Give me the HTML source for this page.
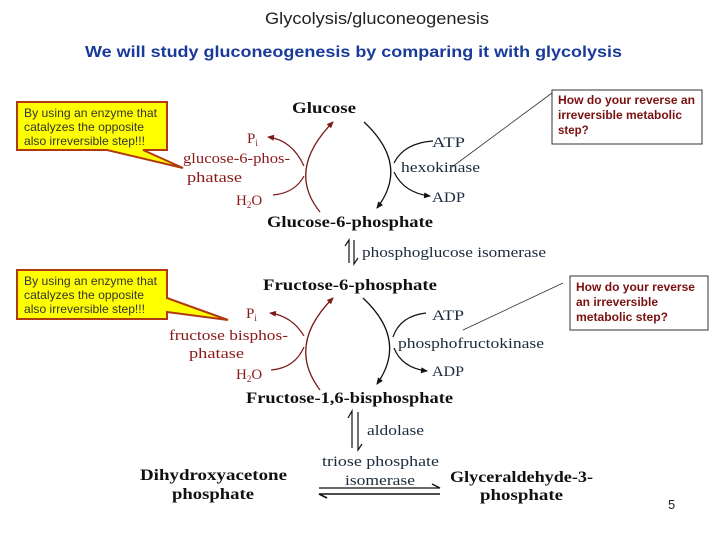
<!DOCTYPE html>
<html><head><meta charset="utf-8"><style>
html,body{margin:0;padding:0;background:#fff}
svg{display:block}
.m{font-family:"Liberation Serif",serif;font-weight:bold;font-size:16px;fill:#111}
.e{font-family:"Liberation Serif",serif;font-size:15px;fill:#1c2c3c}
.r{font-family:"Liberation Serif",serif;font-size:15px;fill:#8a1a1a}
.y{font-family:"Liberation Sans",sans-serif;font-size:12px;fill:#333}
.q{font-family:"Liberation Sans",sans-serif;font-size:11.5px;font-weight:bold;fill:#7a1010}
</style></head><body>
<svg width="720" height="540" viewBox="0 0 720 540" xmlns="http://www.w3.org/2000/svg">
<defs>
<marker id="ab" markerWidth="8" markerHeight="8" refX="6" refY="4" orient="auto" markerUnits="userSpaceOnUse"><path d="M0,1 L7,4 L0,7 Z" fill="#111"/></marker>
<marker id="ar" markerWidth="8" markerHeight="8" refX="6" refY="4" orient="auto" markerUnits="userSpaceOnUse"><path d="M0,1 L7,4 L0,7 Z" fill="#7a1a1a"/></marker>
</defs>
<text x="265" y="24" font-family="Liberation Sans,sans-serif" font-size="17" fill="#222" textLength="224" lengthAdjust="spacingAndGlyphs">Glycolysis/gluconeogenesis</text>
<text x="85" y="57" font-family="Liberation Sans,sans-serif" font-size="16" font-weight="bold" fill="#1a3a9a" textLength="537" lengthAdjust="spacingAndGlyphs">We will study gluconeogenesis by comparing it with glycolysis</text>

<path d="M17,102 H167 V150 H143 L183,168 L107,150 H17 Z" fill="#ffff00" stroke="#b03a10" stroke-width="2"/>
<text class="y" x="24" y="117" textLength="133" lengthAdjust="spacingAndGlyphs">By using an enzyme that</text>
<text class="y" x="24" y="131" textLength="120" lengthAdjust="spacingAndGlyphs">catalyzes the opposite</text>
<text class="y" x="24" y="145" textLength="121" lengthAdjust="spacingAndGlyphs">also irreversible step!!!</text>
<path d="M17,270 H167 V298 L228,320 L167,312 V319 H17 Z" fill="#ffff00" stroke="#b03a10" stroke-width="2"/>
<text class="y" x="24" y="285" textLength="133" lengthAdjust="spacingAndGlyphs">By using an enzyme that</text>
<text class="y" x="24" y="299" textLength="120" lengthAdjust="spacingAndGlyphs">catalyzes the opposite</text>
<text class="y" x="24" y="313" textLength="121" lengthAdjust="spacingAndGlyphs">also irreversible step!!!</text>

<rect x="552" y="90" width="150" height="54" fill="#fff" stroke="#333" stroke-width="1"/>
<text class="q" x="558" y="104" textLength="137" lengthAdjust="spacingAndGlyphs">How do your reverse an</text>
<text class="q" x="558" y="119" textLength="124" lengthAdjust="spacingAndGlyphs">irreversible metabolic</text>
<text class="q" x="558" y="134">step?</text>
<rect x="570" y="276" width="138" height="54" fill="#fff" stroke="#333" stroke-width="1"/>
<text class="q" x="576" y="291" textLength="119" lengthAdjust="spacingAndGlyphs">How do your reverse</text>
<text class="q" x="576" y="306" textLength="82" lengthAdjust="spacingAndGlyphs">an irreversible</text>
<text class="q" x="576" y="321" textLength="92" lengthAdjust="spacingAndGlyphs">metabolic step?</text>
<line x1="452" y1="167" x2="552" y2="93" stroke="#333" stroke-width="0.8"/>
<line x1="463" y1="330" x2="563" y2="283" stroke="#333" stroke-width="0.8"/>

<text class="m" x="292" y="113" textLength="64" lengthAdjust="spacingAndGlyphs">Glucose</text>
<path d="M320,212 Q286,170 333,122" fill="none" stroke="#7a1a1a" stroke-width="1.3" marker-end="url(#ar)"/>
<path d="M364,122 Q410,165 377,208" fill="none" stroke="#111" stroke-width="1.3" marker-end="url(#ab)"/>
<path d="M304,166 Q292,140 268,137" fill="none" stroke="#7a1a1a" stroke-width="1.2" marker-end="url(#ar)"/>
<path d="M273,195 Q295,193 304,176" fill="none" stroke="#7a1a1a" stroke-width="1.2"/>
<path d="M433,141 Q404,143 394,163" fill="none" stroke="#111" stroke-width="1.2"/>
<path d="M394,172 Q404,193 430,196" fill="none" stroke="#111" stroke-width="1.2" marker-end="url(#ab)"/>
<text class="r" x="247" y="143">P<tspan font-size="9" dy="3">i</tspan></text>
<text class="r" x="183" y="163" textLength="107" lengthAdjust="spacingAndGlyphs">glucose-6-phos-</text>
<text class="r" x="187" y="182" textLength="55" lengthAdjust="spacingAndGlyphs">phatase</text>
<text class="r" x="236" y="205">H<tspan font-size="9" dy="3">2</tspan><tspan dy="-3">O</tspan></text>
<text class="e" x="432" y="147" textLength="33" lengthAdjust="spacingAndGlyphs">ATP</text>
<text class="e" x="401" y="172" textLength="79" lengthAdjust="spacingAndGlyphs">hexokinase</text>
<text class="e" x="432" y="202" textLength="33" lengthAdjust="spacingAndGlyphs">ADP</text>
<text class="m" x="267" y="227" textLength="166" lengthAdjust="spacingAndGlyphs">Glucose-6-phosphate</text>
<path d="M349,263 V240 L345,246" fill="none" stroke="#111" stroke-width="1.2"/>
<path d="M354,240 V264 L358,258" fill="none" stroke="#111" stroke-width="1.2"/>
<text class="e" x="362" y="257" textLength="184" lengthAdjust="spacingAndGlyphs">phosphoglucose isomerase</text>

<text class="m" x="263" y="290" textLength="174" lengthAdjust="spacingAndGlyphs">Fructose-6-phosphate</text>
<path d="M320,390 Q286,345 333,298" fill="none" stroke="#7a1a1a" stroke-width="1.3" marker-end="url(#ar)"/>
<path d="M363,298 Q408,340 377,384" fill="none" stroke="#111" stroke-width="1.3" marker-end="url(#ab)"/>
<path d="M304,336 Q292,316 270,313" fill="none" stroke="#7a1a1a" stroke-width="1.2" marker-end="url(#ar)"/>
<path d="M271,370 Q295,368 304,347" fill="none" stroke="#7a1a1a" stroke-width="1.2"/>
<path d="M426,313 Q400,316 393,337" fill="none" stroke="#111" stroke-width="1.2"/>
<path d="M394,348 Q402,368 427,371" fill="none" stroke="#111" stroke-width="1.2" marker-end="url(#ab)"/>
<text class="r" x="246" y="318">P<tspan font-size="9" dy="3">i</tspan></text>
<text class="r" x="169" y="340" textLength="119" lengthAdjust="spacingAndGlyphs">fructose bisphos-</text>
<text class="r" x="189" y="358" textLength="55" lengthAdjust="spacingAndGlyphs">phatase</text>
<text class="r" x="236" y="379">H<tspan font-size="9" dy="3">2</tspan><tspan dy="-3">O</tspan></text>
<text class="e" x="432" y="320" textLength="32" lengthAdjust="spacingAndGlyphs">ATP</text>
<text class="e" x="398" y="348" textLength="146" lengthAdjust="spacingAndGlyphs">phosphofructokinase</text>
<text class="e" x="432" y="376" textLength="32" lengthAdjust="spacingAndGlyphs">ADP</text>
<text class="m" x="246" y="403" textLength="207" lengthAdjust="spacingAndGlyphs">Fructose-1,6-bisphosphate</text>
<path d="M352,448 V411 L348,418" fill="none" stroke="#111" stroke-width="1.2"/>
<path d="M358,412 V450 L362,444" fill="none" stroke="#111" stroke-width="1.2"/>
<text class="e" x="367" y="435" textLength="57" lengthAdjust="spacingAndGlyphs">aldolase</text>
<text class="e" x="322" y="466" textLength="117" lengthAdjust="spacingAndGlyphs">triose phosphate</text>
<text class="e" x="345" y="485" textLength="70" lengthAdjust="spacingAndGlyphs">isomerase</text>
<text class="m" x="140" y="480" textLength="147" lengthAdjust="spacingAndGlyphs">Dihydroxyacetone</text>
<text class="m" x="172" y="499" textLength="82" lengthAdjust="spacingAndGlyphs">phosphate</text>
<text class="m" x="450" y="482" textLength="143" lengthAdjust="spacingAndGlyphs">Glyceraldehyde-3-</text>
<text class="m" x="480" y="500" textLength="83" lengthAdjust="spacingAndGlyphs">phosphate</text>
<path d="M319,488 H440 L432,484" fill="none" stroke="#111" stroke-width="1.3"/>
<path d="M440,494 H319 L327,498" fill="none" stroke="#111" stroke-width="1.6"/>
<text x="668" y="509" font-family="Liberation Sans,sans-serif" font-size="13" fill="#222">5</text>
</svg>
</body></html>
